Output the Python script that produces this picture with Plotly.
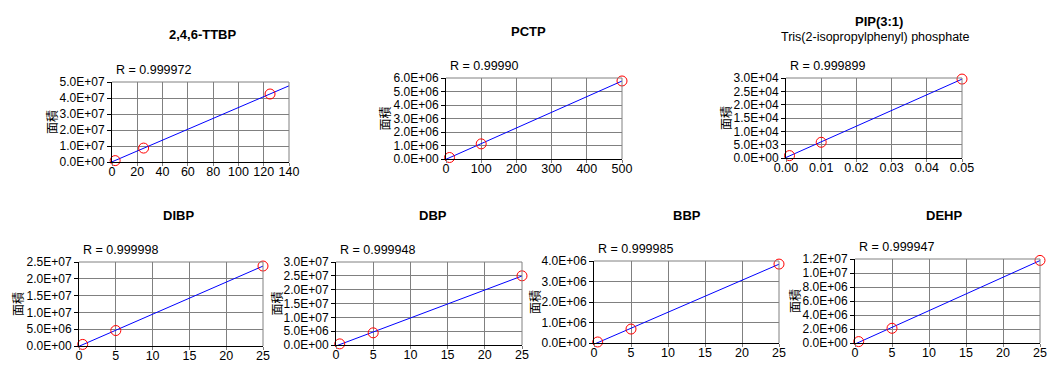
import numpy as np
import plotly.graph_objects as go

# ---- data ----
titles = ["2,4,6-TTBP", "PCTP", "PIP(3:1)", "DIBP", "DBP", "BBP", "DEHP"]
subtitles = ["", "", "Tris(2-isopropylphenyl) phosphate", "", "", "", ""]
r_labels = ["R = 0.999972", "R = 0.99990", "R = 0.999899", "R = 0.999998",
            "R = 0.999948", "R = 0.999985", "R = 0.999947"]

x_ttbp = [2.5, 25, 125]
y_ttbp = [8.6e5, 8.7e6, 4.25e7]
x_pctp = [10, 100, 500]
y_pctp = [1.1e5, 1.12e6, 5.78e6]
x_pip = [0.001, 0.01, 0.05]
y_pip = [900, 5900, 29600]
x_dibp = [0.5, 5, 25]
y_dibp = [4.7e5, 4.6e6, 2.38e7]
x_dbp = [0.5, 5, 25]
y_dbp = [4.0e5, 4.4e6, 2.5e7]
x_bbp = [0.5, 5, 25]
y_bbp = [5.0e4, 6.8e5, 3.85e6]
x_dehp = [0.5, 5, 25]
y_dehp = [2.0e5, 2.1e6, 1.18e7]

xs = [x_ttbp, x_pctp, x_pip, x_dibp, x_dbp, x_bbp, x_dehp]
ys = [y_ttbp, y_pctp, y_pip, y_dibp, y_dbp, y_bbp, y_dehp]

x_ticks = [
    [0, 20, 40, 60, 80, 100, 120, 140],
    [0, 100, 200, 300, 400, 500],
    [0, 0.01, 0.02, 0.03, 0.04, 0.05],
    [0, 5, 10, 15, 20, 25],
    [0, 5, 10, 15, 20, 25],
    [0, 5, 10, 15, 20, 25],
    [0, 5, 10, 15, 20, 25],
]
y_ticks = [
    [0, 1e7, 2e7, 3e7, 4e7, 5e7],
    [0, 1e6, 2e6, 3e6, 4e6, 5e6, 6e6],
    [0, 5e3, 1e4, 1.5e4, 2e4, 2.5e4, 3e4],
    [0, 5e6, 1e7, 1.5e7, 2e7, 2.5e7],
    [0, 5e6, 1e7, 1.5e7, 2e7, 2.5e7, 3e7],
    [0, 1e6, 2e6, 3e6, 4e6],
    [0, 2e6, 4e6, 6e6, 8e6, 1e7, 1.2e7],
]
x_tick_fmt = ["d", "d", ".2f", "d", "d", "d", "d"]
y_label = "面積"

# ---- layout (pixel boxes of plot areas) ----
W, H = 1060, 386
boxes = [
    (112, 289, 82, 162),
    (446, 622, 78, 159),
    (786, 962, 78, 158),
    (79, 263, 262, 346),
    (336, 522, 262, 345),
    (594, 779, 261, 343),
    (855, 1040, 259, 343),
]
title_pos = [(203, 35), (528, 32), (879, 22), (178, 215), (433, 215), (687, 215), (944, 215)]
ylab_x = [51, 384, 726, 17, 276, 534, 794]

fig = go.Figure()
FONT = "Liberation Sans, Arial, sans-serif"
CJK = "Noto Sans CJK JP"
annotations = []

for i in range(7):
    n = i + 1
    xa = "x" if n == 1 else f"x{n}"
    ya = "y" if n == 1 else f"y{n}"
    x0, x1, y0, y1 = boxes[i]
    xmax = x_ticks[i][-1]
    ymax = y_ticks[i][-1]
    # regression line over the axis range
    k, b = np.polyfit(xs[i], ys[i], 1)
    lx = np.array([0, xmax])
    fig.add_trace(go.Scatter(x=lx, y=k * lx + b, mode="lines",
                             line=dict(color="#0000ff", width=1),
                             xaxis=xa, yaxis=ya, showlegend=False, hoverinfo="skip"))
    fig.add_trace(go.Scatter(x=xs[i], y=ys[i], mode="markers",
                             marker=dict(symbol="circle-open", size=10,
                                         line=dict(color="#ff0000", width=1), color="#ff0000"),
                             xaxis=xa, yaxis=ya, showlegend=False, cliponaxis=False))
    xkey = "xaxis" if n == 1 else f"xaxis{n}"
    ykey = "yaxis" if n == 1 else f"yaxis{n}"
    fig.update_layout(**{
        xkey: dict(domain=[x0 / W, x1 / W], anchor=ya, range=[0, xmax],
                   tickvals=x_ticks[i], tickformat=x_tick_fmt[i],
                   showgrid=True, gridcolor="#808080", gridwidth=1,
                   showline=True, linecolor="#000000", linewidth=1,
                   ticks="outside", ticklen=3, tickcolor="#808080",
                   ticklabelstandoff=-5,
                   tickfont=dict(family=FONT, size=12.5, color="#000"),
                   zeroline=False, fixedrange=True, automargin=False),
        ykey: dict(domain=[1 - y1 / H, 1 - y0 / H], anchor=xa, range=[0, ymax],
                   tickvals=y_ticks[i], ticktext=[f"{v:.1E}" for v in y_ticks[i]],
                   showgrid=True, gridcolor="#808080", gridwidth=1,
                   showline=True, linecolor="#000000", linewidth=1,
                   ticks="outside", ticklen=4, tickcolor="#000000",
                   tickfont=dict(family=FONT, size=12, color="#000"),
                   zeroline=False, fixedrange=True, automargin=False),
    })
    # frame top/right in grey
    fig.add_shape(type="line", xref="paper", yref="paper",
                  x0=x0 / W, x1=x1 / W, y0=1 - y0 / H, y1=1 - y0 / H,
                  line=dict(color="#808080", width=1))
    fig.add_shape(type="line", xref="paper", yref="paper",
                  x0=x1 / W, x1=x1 / W, y0=1 - y0 / H, y1=1 - y1 / H,
                  line=dict(color="#808080", width=1))
    tx, ty = title_pos[i]
    annotations.append(dict(text=f"<b>{titles[i]}</b>", x=tx / W, y=1 - ty / H,
                            xref="paper", yref="paper", showarrow=False,
                            xanchor="center", yanchor="middle",
                            font=dict(family=FONT, size=13, color="#000")))
    if subtitles[i]:
        annotations.append(dict(text=subtitles[i], x=875 / W, y=1 - 37 / H,
                                xref="paper", yref="paper", showarrow=False,
                                xanchor="center", yanchor="middle",
                                font=dict(family=FONT, size=12.5, color="#000")))
    annotations.append(dict(text=r_labels[i], x=(x0 + 2) / W, y=1 - (y0 - 12) / H,
                            xref="paper", yref="paper", showarrow=False,
                            xanchor="left", yanchor="middle",
                            font=dict(family=FONT, size=12.5, color="#000")))
    annotations.append(dict(text=y_label, x=ylab_x[i] / W, y=1 - ((y0 + y1) / 2) / H,
                            xref="paper", yref="paper", showarrow=False, textangle=-90,
                            xanchor="center", yanchor="middle",
                            font=dict(family=CJK, size=12, color="#000")))

fig.update_layout(width=W, height=H, margin=dict(l=0, r=0, t=0, b=0),
                  paper_bgcolor="white", plot_bgcolor="white",
                  annotations=annotations, showlegend=False)

fig.write_html("out.html", config={"displayModeBar": False},
               post_script="document.body.style.margin='0px';document.body.style.overflow='hidden';")
